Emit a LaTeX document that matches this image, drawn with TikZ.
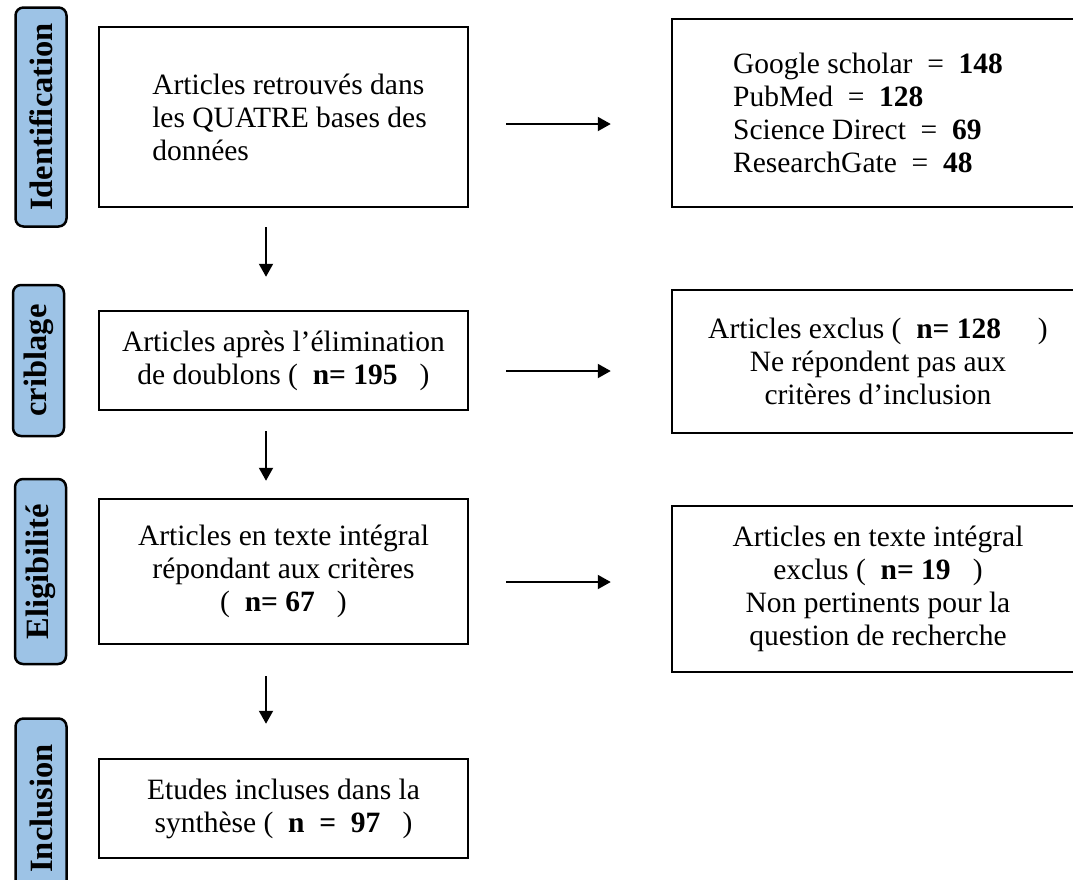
\documentclass[tikz,border=0pt]{standalone}
\usepackage{fontspec}
\setmainfont{Liberation Serif}
\usetikzlibrary{arrows.meta,positioning}
\definecolor{stagefill}{RGB}{157,195,230}

\begin{document}
\begin{tikzpicture}[x=1pt, y=1pt, on grid,
	box/.style={draw, line width=2.5pt, minimum width=369pt, align=center, inner sep=6pt, font=\fontsize{29.5}{33}\selectfont},
	stage/.style={draw, line width=2.5pt, rounded corners=8pt, fill=stagefill, rotate=90, minimum height=51pt, inner sep=2pt, font=\fontsize{32.5}{33}\selectfont\bfseries},
	flow/.style={-{Triangle[length=13pt,width=14pt]}, line width=2pt}]
	\useasboundingbox (0,0) rectangle (1073,-879);

	\node [box, minimum height=180pt, align=left] (art) at (283.5,-117) {\hspace*{12pt}Articles retrouvés dans\\\hspace*{12pt}les QUATRE bases des\\\hspace*{12pt}données};
	\node [box, minimum height=99pt] (dedup) [below=243.5pt of art] {Articles après l’élimination\\de doublons (\ \ \textbf{n= 195}\ \ \ )};
	\node [box, minimum height=145pt] (full) [below=211pt of dedup] {Articles en texte intégral\\répondant aux critères\\(\ \ \textbf{n= 67}\ \ \ )};
	\node [box, minimum height=99pt] (synth) [below=237pt of full] {Etudes incluses dans la\\synthèse (\ \ \textbf{n \ = \ 97}\ \ \ )};

	\node [box, minimum width=412pt, minimum height=188pt, align=left, yshift=4pt] (bases) [right=594.5pt of art] {Google scholar \ = \ \textbf{148}\hspace*{20pt}\\PubMed \ = \ \textbf{128}\\Science Direct \ = \ \textbf{69}\\ResearchGate \ = \ \textbf{48}};
	\node [box, minimum width=412pt, minimum height=143pt, yshift=-1pt] (excl) [right=594.5pt of dedup] {Articles exclus (\ \ \textbf{n= 128}\ \ \ \ \ )\\Ne répondent pas aux\\critères d’inclusion};
	\node [box, minimum width=412pt, minimum height=166pt, yshift=-17.5pt] (nonpert) [right=594.5pt of full] {Articles en texte intégral\\exclus (\ \ \textbf{n= 19}\ \ \ )\\Non pertinents pour la\\question de recherche};

	\node [stage, minimum width=219pt, yshift=-3.5pt] (ident) [left=246pt of art] {Identification};
	\node [stage, minimum width=151pt, yshift=-1pt] (crib) [left=246pt of dedup] {criblage};
	\node [stage, minimum width=185pt, yshift=-3pt] (elig) [left=246pt of full] {Eligibilité};
	\node [stage, minimum width=180pt, yshift=-3.5pt] (incl) [left=246pt of synth] {Inclusion};

	\draw [flow, shorten <=19pt, shorten >=33pt] ([xshift=-17.5pt]art.south) -- ([xshift=-17.5pt]dedup.north);
	\draw [flow, shorten <=20pt, shorten >=17pt] ([xshift=-17.5pt]dedup.south) -- ([xshift=-17.5pt]full.north);
	\draw [flow, shorten <=31pt, shorten >=34pt] ([xshift=-17.5pt]full.south) -- ([xshift=-17.5pt]synth.north);

	\draw [flow, shorten <=37pt, shorten >=60pt] ([yshift=-7pt]art.east) -- ([yshift=-7pt]art.east -| bases.west);
	\draw [flow, shorten <=37pt, shorten >=60pt] ([yshift=-10.5pt]dedup.east) -- ([yshift=-10.5pt]dedup.east -| excl.west);
	\draw [flow, shorten <=37pt, shorten >=60pt] ([yshift=-10.5pt]full.east) -- ([yshift=-10.5pt]full.east -| nonpert.west);

\end{tikzpicture}
\end{document}
